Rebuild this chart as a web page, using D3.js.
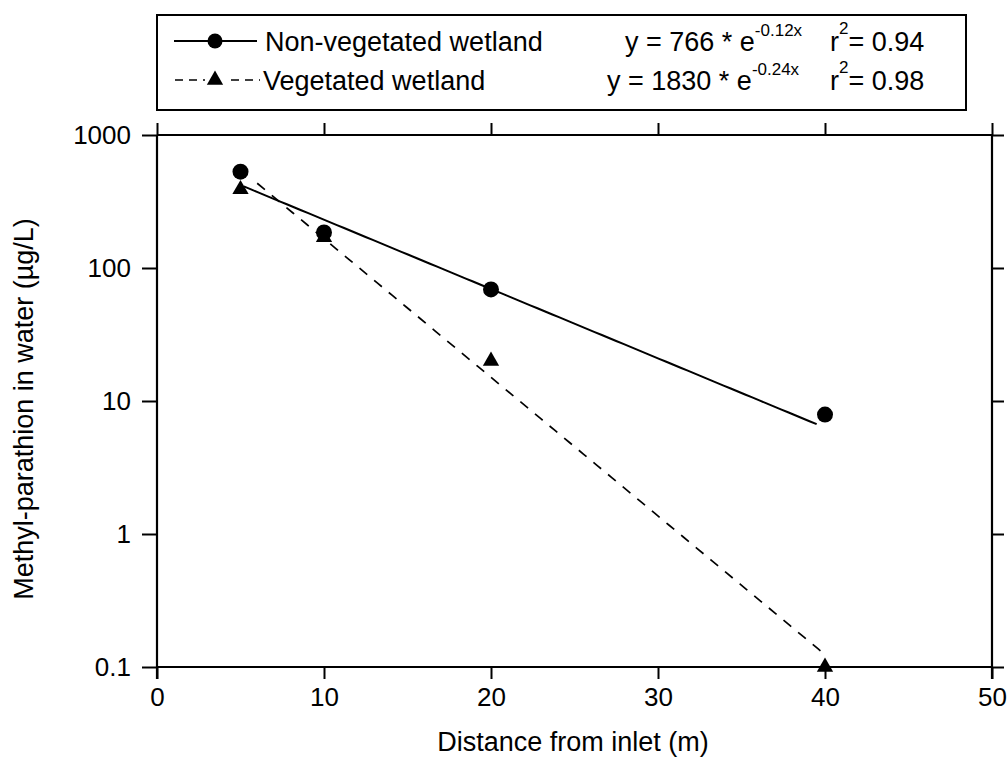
<!DOCTYPE html>
<html>
<head>
<meta charset="utf-8">
<script src="https://cdn.jsdelivr.net/npm/d3@7"></script>
<style>
  html, body { margin: 0; padding: 0; background: #fff; }
  svg { display: block; font-family: "Liberation Sans", Arial, sans-serif; }
</style>
</head>
<body>
<svg id="chart" width="1008" height="757"></svg>
<script>
// Sampling distance along the wetland (m)
const distances = [5, 10, 20, 40];
// Measured methyl-parathion concentrations (µg/L)
const nonVegetated = [530, 185, 69, 7.9];
const vegetated = [390, 170, 20, 0.1];
// Exponential fits y = a * e^(b x)
const fitA = [766, 1830];
const fitB = [-0.12, -0.24];
const fitR2 = [0.94, 0.98];
const fitStart = [5.2, 6];
const fitEnd = [39.5, 40];
const seriesNames = ["Non-vegetated wetland", "Vegetated wetland"];
const xTicks = [0, 10, 20, 30, 40, 50];
const yTicks = [0.1, 1, 10, 100, 1000];
const yTickLabels = ["0.1", "1", "10", "100", "1000"];

const svg = d3.select("#chart");
const plotLeft = 157, plotRight = 992, plotTop = 135, plotBottom = 667;

const x = d3.scaleLinear().domain([0, 50]).range([plotLeft, plotRight]);
const y = d3.scaleLog().domain([0.1, 1000]).range([plotBottom, plotTop]);

const tickFont = 26;
const titleFont = 27;
const legendFont = 27;

// Axes
const axisBottom = d3.axisBottom(x).tickValues(xTicks).tickSize(12).tickPadding(9).tickFormat(d3.format("d"));
const axisTop = d3.axisTop(x).tickValues(xTicks).tickSize(12).tickFormat("");
const axisLeft = d3.axisLeft(y).tickValues(yTicks).tickSize(15).tickPadding(11)
  .tickFormat((d, i) => yTickLabels[i]);
const axisRight = d3.axisRight(y).tickValues(yTicks).tickSize(12).tickFormat("");

function styleAxis(g) {
  g.attr("font-size", null).attr("font-family", null);
  g.select(".domain").attr("stroke", "#000").attr("stroke-width", 2.2);
  g.selectAll(".tick line").attr("stroke", "#000").attr("stroke-width", 2);
  g.selectAll(".tick text").attr("fill", "#000")
    .style("font-family", "'Liberation Sans', Arial, sans-serif")
    .style("font-size", tickFont + "px");
}

svg.append("g").attr("transform", `translate(0,${plotBottom})`).call(axisBottom).call(g => {
  styleAxis(g);
  g.select(".domain").attr("d", `M${plotLeft},0H${plotRight}`);
});
svg.append("g").attr("transform", `translate(0,${plotTop})`).call(axisTop).call(g => {
  styleAxis(g);
  g.select(".domain").attr("d", `M${plotLeft},0H${plotRight}`);
});
svg.append("g").attr("transform", `translate(${plotLeft},0)`).call(axisLeft).call(g => {
  styleAxis(g);
  g.select(".domain").attr("d", `M0,${plotTop}V${plotBottom + 12}`);
});
svg.append("g").attr("transform", `translate(${plotRight},0)`).call(axisRight).call(g => {
  styleAxis(g);
  g.select(".domain").attr("d", `M0,${plotTop}V${plotBottom + 12}`);
});

// Axis titles
svg.append("text")
  .attr("x", 573).attr("y", 751)
  .attr("text-anchor", "middle")
  .style("font-size", titleFont + "px")
  .text("Distance from inlet (m)");

svg.append("text")
  .attr("transform", `translate(33,409) rotate(-90)`)
  .attr("text-anchor", "middle")
  .style("font-size", titleFont + "px")
  .text("Methyl-parathion in water (µg/L)");

// Fitted curves
const line = d3.line().x(d => x(d[0])).y(d => y(d[1]));
function fitPoints(i) {
  const n = 80;
  return d3.range(n + 1).map(k => {
    const xv = fitStart[i] + (fitEnd[i] - fitStart[i]) * k / n;
    return [xv, fitA[i] * Math.exp(fitB[i] * xv)];
  });
}
svg.append("path").datum(fitPoints(0))
  .attr("d", line).attr("fill", "none").attr("stroke", "#000").attr("stroke-width", 2);
svg.append("path").datum(fitPoints(1))
  .attr("d", line).attr("fill", "none").attr("stroke", "#000").attr("stroke-width", 1.7)
  .attr("stroke-dasharray", "10,9");

// Markers
const triSym = d3.symbol().type(d3.symbolTriangle).size(115);
svg.append("g").selectAll("circle").data(distances).join("circle")
  .attr("cx", d => x(d))
  .attr("cy", (d, i) => y(nonVegetated[i]))
  .attr("r", 8).attr("fill", "#000");
svg.append("g").selectAll("path").data(distances).join("path")
  .attr("d", triSym)
  .attr("transform", (d, i) => `translate(${x(d)},${y(vegetated[i])})`)
  .attr("fill", "#000");

// Legend box
const legend = svg.append("g");
legend.append("rect")
  .attr("x", 157).attr("y", 15).attr("width", 809).attr("height", 95)
  .attr("fill", "#fff").attr("stroke", "#000").attr("stroke-width", 2);

const rowY = [41, 80];

// Row 1: solid line with circle
legend.append("line").attr("x1", 174).attr("x2", 257).attr("y1", rowY[0]).attr("y2", rowY[0])
  .attr("stroke", "#000").attr("stroke-width", 2);
legend.append("circle").attr("cx", 215).attr("cy", rowY[0]).attr("r", 7.5).attr("fill", "#000");

// Row 2: dashed line with triangle
legend.append("line").attr("x1", 175).attr("x2", 260).attr("y1", rowY[1]).attr("y2", rowY[1])
  .attr("stroke", "#000").attr("stroke-width", 1.7).attr("stroke-dasharray", "8,6");
legend.append("rect").attr("x", 205).attr("y", rowY[1] - 9).attr("width", 20).attr("height", 18).attr("fill", "#fff");
legend.append("path").attr("d", triSym).attr("transform", `translate(215,${rowY[1]})`).attr("fill", "#000");

const nameX = [265, 263];
seriesNames.forEach((name, i) => {
  legend.append("text")
    .attr("x", nameX[i]).attr("y", rowY[i] + 10)
    .style("font-size", legendFont + "px")
    .text(name);
});

// Fit equations
const eqX = [625, 607];
const r2X = [830, 830];
const fmtB = d3.format(".2f");
fitA.forEach((a, i) => {
  const t = legend.append("text")
    .attr("x", eqX[i]).attr("y", rowY[i] + 10)
    .style("font-size", legendFont + "px");
  t.append("tspan").text(`y = ${a} * e`);
  t.append("tspan").attr("dy", -15).style("font-size", "17px").text(`${fmtB(fitB[i]).replace("\u2212", "-")}x`);

  const r = legend.append("text")
    .attr("x", r2X[i]).attr("y", rowY[i] + 10)
    .style("font-size", legendFont + "px");
  r.append("tspan").text("r");
  r.append("tspan").attr("dy", -17).style("font-size", "17px").text("2");
  r.append("tspan").attr("dy", 17).text(`= ${fitR2[i].toFixed(2)}`);
});
</script>
</body>
</html>
